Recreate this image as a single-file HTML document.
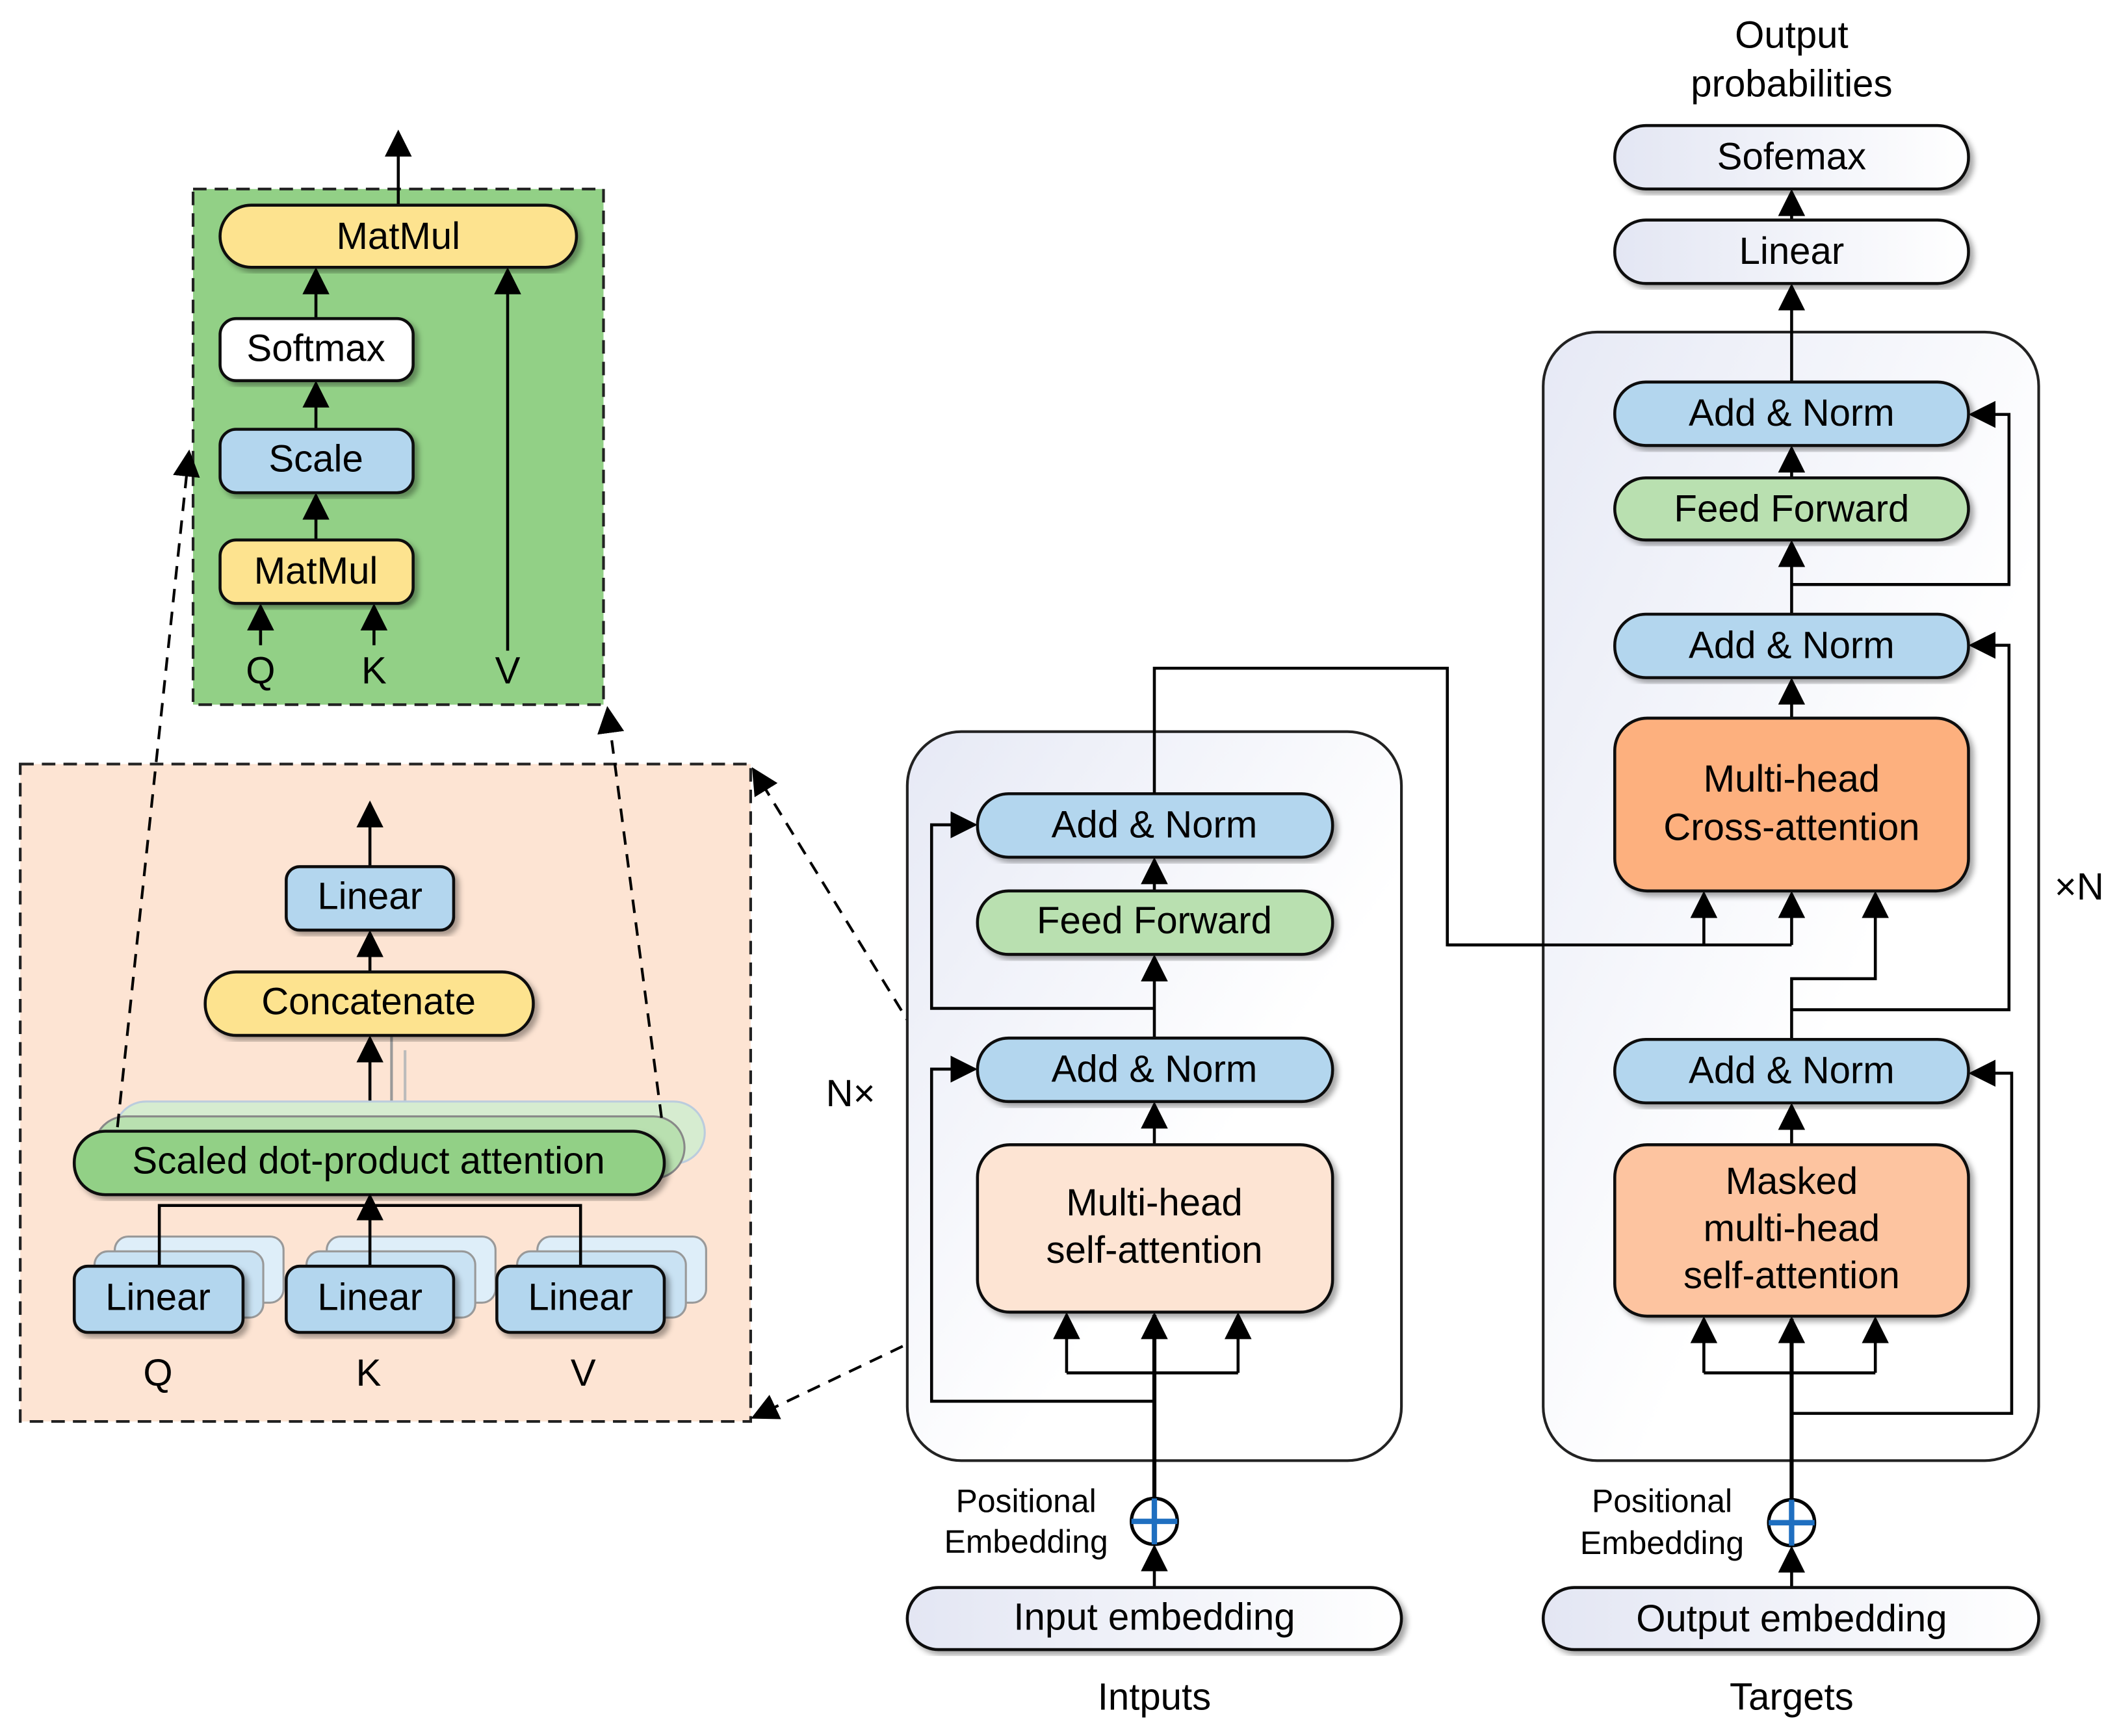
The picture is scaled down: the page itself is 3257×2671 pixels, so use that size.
<!DOCTYPE html>
<html><head><meta charset="utf-8"><style>html,body{margin:0;padding:0;background:#fff}svg{display:block}</style></head>
<body>
<svg width="3257" height="2671" viewBox="0 0 1568 1286" preserveAspectRatio="none" xmlns="http://www.w3.org/2000/svg" font-family="Liberation Sans, Arial, sans-serif">
<defs>
<marker id="ar" viewBox="0 0 10 10" refX="9" refY="5" markerWidth="20" markerHeight="20" orient="auto" markerUnits="userSpaceOnUse"><path d="M0,0 L10,5 L0,10 z" fill="#000"/></marker>
<linearGradient id="g" x1="0" y1="0" x2="1" y2="1"><stop offset="0" stop-color="#e6e9f5"/><stop offset="0.6" stop-color="#fff"/></linearGradient>
<linearGradient id="gb" x1="0" y1="0" x2="1" y2="0"><stop offset="0" stop-color="#e3e6f3"/><stop offset="1" stop-color="#fff"/></linearGradient>
<filter id="sh"><feDropShadow dx="3" dy="3" stdDeviation="2" flood-opacity="0.35"/></filter>
</defs>
<style>
.b{stroke:#111;stroke-width:2.2;filter:url(#sh)}
.t{font-size:28px;text-anchor:middle;dominant-baseline:central;fill:#000}
.l{stroke:#000;stroke-width:2.2;fill:none}
.d{stroke:#000;stroke-width:2;fill:none;stroke-dasharray:10,7}
</style>

<rect x="143" y="140" width="304" height="382" fill="#92d086" stroke="#222" stroke-width="2" stroke-dasharray="10,6"/>
<line class="l" x1="295" y1="152" x2="295" y2="98" marker-end="url(#ar)"/>
<line class="l" x1="234" y1="236" x2="234" y2="200" marker-end="url(#ar)"/>
<line class="l" x1="234" y1="318" x2="234" y2="284" marker-end="url(#ar)"/>
<line class="l" x1="234" y1="400" x2="234" y2="367" marker-end="url(#ar)"/>
<line class="l" x1="376" y1="482" x2="376" y2="200" marker-end="url(#ar)"/>
<line class="l" x1="193" y1="478" x2="193" y2="449" marker-end="url(#ar)"/>
<line class="l" x1="277" y1="478" x2="277" y2="449" marker-end="url(#ar)"/>
<rect class="b" x="163" y="152" width="264" height="46" rx="23" fill="#fde38f"/><text class="t" x="295" y="175">MatMul</text>
<rect class="b" x="163" y="236" width="143" height="46" rx="12" fill="#fff"/><text class="t" x="234" y="258">Softmax</text>
<rect class="b" x="163" y="318" width="143" height="47" rx="12" fill="#b3d6ee"/><text class="t" x="234" y="340">Scale</text>
<rect class="b" x="163" y="400" width="143" height="47" rx="12" fill="#fde38f"/><text class="t" x="234" y="423">MatMul</text>
<text class="t" x="193" y="497">Q</text><text class="t" x="277" y="497">K</text><text class="t" x="376" y="497">V</text>

<rect x="15" y="566" width="541" height="487" fill="#fde4d3" stroke="#222" stroke-width="2" stroke-dasharray="10,6"/>
<line class="l" x1="274" y1="642" x2="274" y2="595" marker-end="url(#ar)"/>
<line class="l" x1="274" y1="720" x2="274" y2="691" marker-end="url(#ar)"/>
<line x1="290" y1="830" x2="290" y2="768" stroke="#999" stroke-width="2"/>
<line x1="300" y1="830" x2="300" y2="778" stroke="#bbb" stroke-width="2"/>
<line class="l" x1="274" y1="838" x2="274" y2="769" marker-end="url(#ar)"/>
<rect x="85" y="816" width="437" height="46" rx="23" fill="#d6ecd0" stroke="#bcd" stroke-width="1.5"/>
<rect x="70" y="827" width="437" height="46" rx="23" fill="#b9e0b0" stroke="#888" stroke-width="1.5"/>
<rect class="b" x="55" y="838" width="437" height="47" rx="23" fill="#92d086"/><text class="t" x="273" y="860">Scaled dot-product attention</text>
<rect class="b" x="152" y="720" width="243" height="47" rx="23" fill="#fde38f"/><text class="t" x="273" y="742">Concatenate</text>
<rect class="b" x="212" y="642" width="124" height="47" rx="10" fill="#b3d6ee"/><text class="t" x="274" y="664">Linear</text>
<g stroke="#999" stroke-width="1.5">
<rect x="85" y="916" width="125" height="49" rx="10" fill="#deeef9"/><rect x="70" y="927" width="125" height="49" rx="10" fill="#c9e2f3"/>
<rect x="242" y="916" width="125" height="49" rx="10" fill="#deeef9"/><rect x="227" y="927" width="125" height="49" rx="10" fill="#c9e2f3"/>
<rect x="398" y="916" width="125" height="49" rx="10" fill="#deeef9"/><rect x="383" y="927" width="125" height="49" rx="10" fill="#c9e2f3"/>
</g>
<path class="l" d="M118,938 V893 H430 V938"/>
<line class="l" x1="274" y1="938" x2="274" y2="886" marker-end="url(#ar)"/>
<rect class="b" x="55" y="938" width="125" height="49" rx="10" fill="#b3d6ee"/><text class="t" x="117" y="961">Linear</text>
<rect class="b" x="212" y="938" width="124" height="49" rx="10" fill="#b3d6ee"/><text class="t" x="274" y="961">Linear</text>
<rect class="b" x="368" y="938" width="124" height="49" rx="10" fill="#b3d6ee"/><text class="t" x="430" y="961">Linear</text>
<text class="t" x="117" y="1017">Q</text><text class="t" x="273" y="1017">K</text><text class="t" x="432" y="1017">V</text>

<line class="d" x1="87" y1="835" x2="140" y2="335" marker-end="url(#ar)"/>
<line class="d" x1="490" y1="828" x2="450" y2="525" marker-end="url(#ar)"/>
<line class="d" x1="730" y1="850" x2="558" y2="570" marker-end="url(#ar)"/>
<line class="d" x1="730" y1="968" x2="558" y2="1050" marker-end="url(#ar)"/>

<rect x="672" y="542" width="366" height="540" rx="40" fill="url(#g)" stroke="#222" stroke-width="2"/>
<path class="l" d="M855,747 H690 V611 H722" marker-end="url(#ar)"/>
<path class="l" d="M855,1038 H690 V792 H722" marker-end="url(#ar)"/>
<line class="l" x1="855" y1="660" x2="855" y2="637" marker-end="url(#ar)"/>
<line class="l" x1="855" y1="769" x2="855" y2="709" marker-end="url(#ar)"/>
<line class="l" x1="855" y1="848" x2="855" y2="818" marker-end="url(#ar)"/>
<path class="l" d="M790,1017 H917"/>
<line class="l" x1="790" y1="1017" x2="790" y2="974" marker-end="url(#ar)"/>
<line class="l" x1="917" y1="1017" x2="917" y2="974" marker-end="url(#ar)"/>
<line x1="855" y1="1110" x2="855" y2="974" stroke="#000" stroke-width="3" marker-end="url(#ar)"/>
<line class="l" x1="855" y1="1176" x2="855" y2="1146" marker-end="url(#ar)"/>
<rect class="b" x="724" y="588" width="263" height="47" rx="23" fill="#b3d6ee"/><text class="t" x="855" y="611">Add &amp; Norm</text>
<rect class="b" x="724" y="660" width="263" height="47" rx="23" fill="#b9e0b0"/><text class="t" x="855" y="682">Feed Forward</text>
<rect class="b" x="724" y="769" width="263" height="47" rx="23" fill="#b3d6ee"/><text class="t" x="855" y="792">Add &amp; Norm</text>
<rect class="b" x="724" y="848" width="263" height="124" rx="24" fill="#fde4d3"/><text class="t" x="855" y="891">Multi-head</text><text class="t" x="855" y="926">self-attention</text>
<circle cx="855" cy="1127" r="17" fill="#fff" stroke="#000" stroke-width="2.5"/><path d="M838,1127 H872 M855,1110 V1144" stroke="#1f6fc0" stroke-width="4"/>
<rect class="b" x="672" y="1176" width="366" height="46" rx="23" fill="url(#gb)"/><text class="t" x="855" y="1198">Input embedding</text>
<text class="t" x="760" y="1112" style="font-size:24px">Positional</text><text class="t" x="760" y="1142" style="font-size:24px">Embedding</text>
<text class="t" x="855" y="1257">Intputs</text>
<text class="t" x="630" y="810">N×</text>

<path class="l" d="M855,588 V495 H1072 V700 H1327"/>

<rect x="1143" y="246" width="367" height="836" rx="40" fill="url(#g)" stroke="#222" stroke-width="2"/>
<path class="l" d="M1327,700 H1072"/>
<line class="l" x1="1262" y1="700" x2="1262" y2="662" marker-end="url(#ar)"/>
<line class="l" x1="1327" y1="700" x2="1327" y2="662" marker-end="url(#ar)"/>
<path class="l" d="M1327,770 V725 H1389 V662" marker-end="url(#ar)"/>
<path class="l" d="M1327,433 H1488 V307 H1460" marker-end="url(#ar)"/>
<path class="l" d="M1327,748 H1488 V478 H1460" marker-end="url(#ar)"/>
<path class="l" d="M1327,1047 H1490 V795 H1460" marker-end="url(#ar)"/>
<line class="l" x1="1327" y1="283" x2="1327" y2="212" marker-end="url(#ar)"/>
<line class="l" x1="1327" y1="163" x2="1327" y2="142" marker-end="url(#ar)"/>
<line class="l" x1="1327" y1="354" x2="1327" y2="332" marker-end="url(#ar)"/>
<line class="l" x1="1327" y1="455" x2="1327" y2="402" marker-end="url(#ar)"/>
<line class="l" x1="1327" y1="532" x2="1327" y2="504" marker-end="url(#ar)"/>
<line class="l" x1="1327" y1="848" x2="1327" y2="819" marker-end="url(#ar)"/>
<path class="l" d="M1262,1017 H1389"/>
<line class="l" x1="1262" y1="1017" x2="1262" y2="977" marker-end="url(#ar)"/>
<line class="l" x1="1389" y1="1017" x2="1389" y2="977" marker-end="url(#ar)"/>
<line x1="1327" y1="1111" x2="1327" y2="977" stroke="#000" stroke-width="3" marker-end="url(#ar)"/>
<line class="l" x1="1327" y1="1176" x2="1327" y2="1147" marker-end="url(#ar)"/>
<rect class="b" x="1196" y="93" width="262" height="47" rx="23" fill="url(#gb)"/><text class="t" x="1327" y="116">Sofemax</text>
<rect class="b" x="1196" y="163" width="262" height="47" rx="23" fill="url(#gb)"/><text class="t" x="1327" y="186">Linear</text>
<rect class="b" x="1196" y="283" width="262" height="47" rx="23" fill="#b3d6ee"/><text class="t" x="1327" y="306">Add &amp; Norm</text>
<rect class="b" x="1196" y="354" width="262" height="46" rx="23" fill="#b9e0b0"/><text class="t" x="1327" y="377">Feed Forward</text>
<rect class="b" x="1196" y="455" width="262" height="47" rx="23" fill="#b3d6ee"/><text class="t" x="1327" y="478">Add &amp; Norm</text>
<rect class="b" x="1196" y="532" width="262" height="128" rx="24" fill="#fdb07e"/><text class="t" x="1327" y="577">Multi-head</text><text class="t" x="1327" y="613">Cross-attention</text>
<rect class="b" x="1196" y="770" width="262" height="47" rx="23" fill="#b3d6ee"/><text class="t" x="1327" y="793">Add &amp; Norm</text>
<rect class="b" x="1196" y="848" width="262" height="127" rx="24" fill="#fdc4a0"/><text class="t" x="1327" y="875">Masked</text><text class="t" x="1327" y="910">multi-head</text><text class="t" x="1327" y="945">self-attention</text>
<circle cx="1327" cy="1128" r="17" fill="#fff" stroke="#000" stroke-width="2.5"/><path d="M1310,1128 H1344 M1327,1111 V1145" stroke="#1f6fc0" stroke-width="4"/>
<rect class="b" x="1143" y="1176" width="367" height="46" rx="23" fill="url(#gb)"/><text class="t" x="1327" y="1199">Output embedding</text>
<text class="t" x="1231" y="1112" style="font-size:24px">Positional</text><text class="t" x="1231" y="1143" style="font-size:24px">Embedding</text>
<text class="t" x="1327" y="1257">Targets</text>
<text class="t" x="1540" y="657">×N</text>
<text class="t" x="1327" y="26">Output</text><text class="t" x="1327" y="62">probabilities</text>
</svg>
</body></html>
